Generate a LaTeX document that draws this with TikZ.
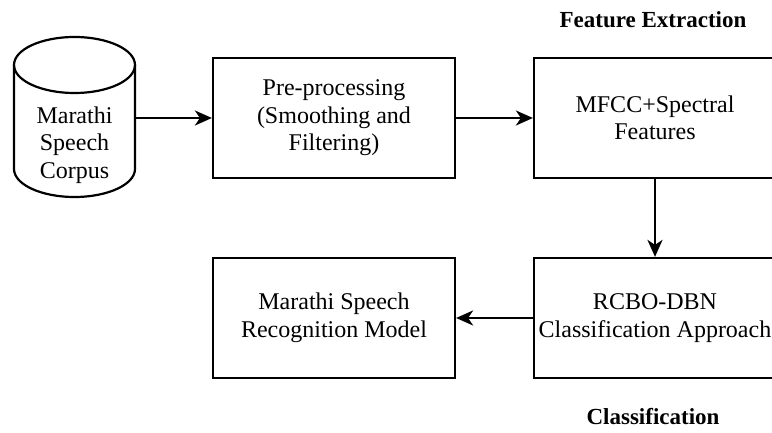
\documentclass[tikz,border=0pt]{standalone}
\usepackage{fontspec}
\setmainfont{Liberation Serif}
\usetikzlibrary{arrows.meta}
\begin{document}
\begin{tikzpicture}[x=1pt,y=1pt,
  outline/.style={draw=black, line width=2.2pt},
  stagebox/.style={outline, rectangle, minimum width=242pt, minimum height=120pt,
    inner sep=0pt, align=center, font=\fontsize{24}{27.5}\selectfont},
  plain/.style={align=center, inner sep=0pt, font=\fontsize{24}{27.5}\selectfont},
  heading/.style={inner sep=0pt, font=\bfseries\fontsize{23}{27}\selectfont},
  flow/.style={line width=2.2pt, -{Stealth[length=17pt,width=15pt,inset=5pt]}}]
  \useasboundingbox (0,0) rectangle (772,433);
  \clip (0,0) rectangle (772,433);

  % corpus cylinder
  \node[minimum width=121pt, minimum height=160pt, inner sep=0pt] (corpus) at (74.5,315) {};
  \draw[outline] (14,368) -- (14,264)
    arc[start angle=180, end angle=360, x radius=60.5, y radius=28] -- (135,368);
  \draw[outline] (74.5,368) ellipse[x radius=60.5, y radius=28];
  \node[plain] (corpustext) at (74.5,288) {Marathi\\Speech\\Corpus};

  % processing stages
  \node[stagebox] (pre)   at (334,315) {Pre-processing\\(Smoothing and\\Filtering)};
  \node[stagebox] (mfcc)  at (655,315) {MFCC+Spectral\\Features};
  \node[stagebox] (rcbo)  at (655,115) {RCBO-DBN\\Classification Approach};
  \node[stagebox] (model) at (334,115) {Marathi Speech\\Recognition Model};

  % section headings
  \node[heading, anchor=base] (fehead) at (653,405) {Feature Extraction};
  \node[heading, anchor=base] (clhead) at (653,8) {Classification};

  % connectors
  \draw[flow] (corpus.east) -- (pre.west);
  \draw[flow] (pre.east) -- (mfcc.west);
  \draw[flow] (mfcc.south) -- (rcbo.north);
  \draw[flow] (rcbo.west) -- (model.east);
\end{tikzpicture}
\end{document}
